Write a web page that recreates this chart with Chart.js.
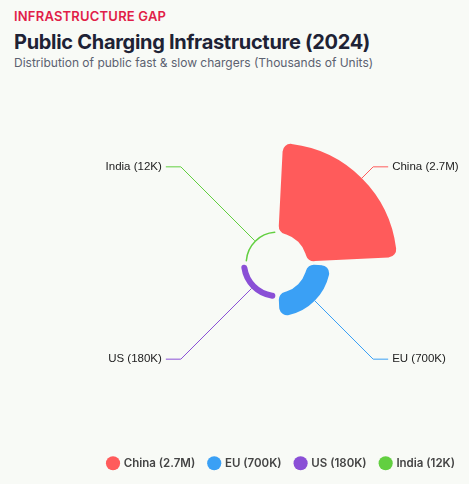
<!DOCTYPE html>
<html><head><meta charset="utf-8">
<script src="https://cdn.jsdelivr.net/npm/chart.js@4/dist/chart.umd.min.js"></script>
<style>
body{margin:0;background:#f8faf6;font-family:Inter,"Noto Sans",sans-serif;width:469px;height:484px;overflow:hidden;position:relative}
.k{position:absolute;left:14px;top:8px;color:#e11d48;font-weight:600;font-size:13px;letter-spacing:.2px}
.t{position:absolute;left:14px;top:30px;color:#1e2235;font-weight:700;font-size:20px;letter-spacing:-.3px}
.s{position:absolute;left:14px;top:55px;color:#5b6170;font-size:12px}
#w{position:absolute;left:0;top:80px;width:469px;height:399px}
</style></head><body>
<div class="k">INFRASTRUCTURE GAP</div>
<div class="t">Public Charging Infrastructure (2024)</div>
<div class="s">Distribution of public fast &amp; slow chargers (Thousands of Units)</div>
<div id="w"><canvas id="c"></canvas></div>
<script>
var labels = ['China (2.7M)', 'EU (700K)', 'US (180K)', 'India (12K)'];
var calloutLabels = ['China (2.7M)', 'EU (700K)', 'US (180K)', 'India (12K)'];
var values = [2700, 700, 180, 12];
var colors = ['#ff5b5b', '#3aa0f5', '#8a4fd6', '#62cf40'];

var HOLE = 30, SPAN = 90;
var holePlugin = {
  id: 'hole',
  afterDatasetUpdate: function(chart) {
    var R = chart.scales.r.drawingArea;
    chart.getDatasetMeta(0).data.forEach(function(a) {
      a.innerRadius = HOLE;
      a.outerRadius = HOLE + Math.max(a.outerRadius / R * SPAN, 1.5);
      a.startAngle += 0.05;
      a.endAngle -= 0.05;
    });
  }
};
var calloutPlugin = {
  id: 'callout',
  afterDraw: function(chart) {
    var ctx = chart.ctx;
    var sc = chart.scales.r;
    var cx = sc.xCenter, cy = sc.yCenter;
    chart.getDatasetMeta(0).data.forEach(function(a, i) {
      var mid = (a.startAngle + a.endAngle) / 2;
      var sx = cx + Math.cos(mid) * a.outerRadius, sy = cy + Math.sin(mid) * a.outerRadius;
      var ex = cx + Math.cos(mid) * 136, ey = cy + Math.sin(mid) * 136;
      var right = Math.cos(mid) > 0;
      var hx = ex + (right ? 15 : -15);
      ctx.save();
      ctx.strokeStyle = colors[i];
      ctx.lineWidth = 1;
      ctx.beginPath(); ctx.moveTo(sx, sy); ctx.lineTo(ex, ey); ctx.lineTo(hx, ey); ctx.stroke();
      ctx.fillStyle = '#222';
      ctx.font = '11.5px "Liberation Sans", Arial, sans-serif';
      ctx.textBaseline = 'middle';
      ctx.textAlign = right ? 'left' : 'right';
      ctx.fillText(calloutLabels[i], hx + (right ? 4 : -4), ey);
      ctx.restore();
    });
  }
};
new Chart(document.getElementById('c'), {
  type: 'polarArea',
  data: { labels: labels, datasets: [{ data: values, backgroundColor: colors, borderWidth: 0, borderRadius: 8 }] },
  options: {
    responsive: true, maintainAspectRatio: false, animation: false,
    startAngle: 0,
    layout: { padding: { left: 86, right: 0, top: 3, bottom: 0 } },
    scales: { r: { min: 0, max: 2700, display: false } },
    plugins: {
      tooltip: { enabled: false },
      legend: { position: 'bottom', align: 'end',
        labels: { usePointStyle: true, pointStyle: 'circle', boxWidth: 10, boxHeight: 10, padding: 14,
          color: '#444', font: { size: 11.5, weight: '600', family: 'Inter' } } }
    }
  },
  plugins: [holePlugin, calloutPlugin]
});
</script>
</body></html>
